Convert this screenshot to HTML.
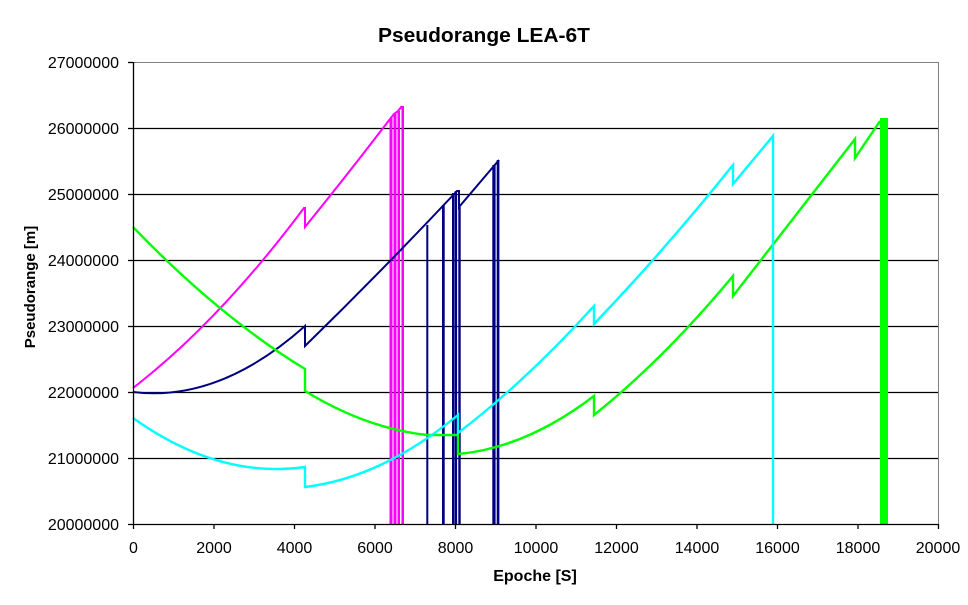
<!DOCTYPE html>
<html>
<head>
<meta charset="utf-8">
<style>
  html, body { margin: 0; padding: 0; background: #ffffff; }
  svg { display: block; }
  text { font-family: "Liberation Sans", Arial, sans-serif; fill: #000; }
</style>
</head>
<body>
<svg width="968" height="605" viewBox="0 0 968 605" xmlns="http://www.w3.org/2000/svg">
  <rect x="0" y="0" width="968" height="605" fill="#ffffff"/>

  <!-- Title -->
  <text x="378" y="42" font-size="20" font-weight="bold" textLength="212" lengthAdjust="spacingAndGlyphs">Pseudorange LEA-6T</text>

  <!-- plot border (grey top/right) -->
  <line x1="133" y1="62.5" x2="938.5" y2="62.5" stroke="#808080" stroke-width="1"/>
  <line x1="938.5" y1="62" x2="938.5" y2="524" stroke="#808080" stroke-width="1"/>

  <!-- grid lines -->
  <g stroke="#000" stroke-width="1.3">
    <line x1="133" y1="128.5" x2="938" y2="128.5"/>
    <line x1="133" y1="194.5" x2="938" y2="194.5"/>
    <line x1="133" y1="260.5" x2="938" y2="260.5"/>
    <line x1="133" y1="326.5" x2="938" y2="326.5"/>
    <line x1="133" y1="392.5" x2="938" y2="392.5"/>
    <line x1="133" y1="458.5" x2="938" y2="458.5"/>
  </g>

  <!-- series: magenta -->
  <g fill="#FF00FF">
    <rect x="389.5" y="118" width="3" height="406"/>
    <rect x="393.5" y="114" width="3" height="410"/>
    <rect x="397.5" y="111" width="2.5" height="413"/>
    <rect x="401.5" y="106" width="2.5" height="418"/>
  </g>
  <path fill="none" stroke="#FF00FF" stroke-width="2"
    d="M133,388 Q218.5,322.2 304,208 L305,208 L305,227 Q348,174 390,119 L394,114 L398,111 L402,106"/>

  <!-- series: navy -->
  <g fill="#000080">
    <rect x="426.3" y="225" width="2" height="299"/>
    <rect x="442" y="205" width="2.7" height="319"/>
    <rect x="452" y="193" width="2.4" height="331"/>
    <rect x="454.7" y="191" width="2.4" height="333"/>
    <rect x="458.3" y="207" width="2.4" height="317"/>
    <rect x="492.3" y="165" width="3.3" height="359"/>
    <rect x="496.7" y="160" width="2.7" height="364"/>
  </g>
  <path fill="none" stroke="#000080" stroke-width="2"
    d="M133,392 Q219,402.6 305,326 L305,346 Q381,271.9 457,191 L459,191 L459,207 L499,160"/>

  <!-- series: green -->
  <rect x="880" y="118" width="8" height="406" fill="#00FF00"/>
  <path fill="none" stroke="#00FF00" stroke-width="2.4"
    d="M133,227 Q219,316.4 305,369 L305,391 Q366,428.3 427,435 L458,435 L458,454 Q526,447.9 594,396 L594,415 Q663.5,359.5 733,276 L733,296 L855,139 L855,158 L880,121"/>

  <!-- series: cyan -->
  <path fill="none" stroke="#00FFFF" stroke-width="2.4"
    d="M133,418 Q219,479.3 305,467 L305,487 Q381.5,478 458,415 L458,433 Q526,381.1 594,306 L594,324 Q663.5,251.6 733,165 L733,184 L773,136 L773,524"/>

  <!-- axes -->
  <line x1="133.5" y1="62" x2="133.5" y2="525" stroke="#000" stroke-width="1.3"/>
  <line x1="128" y1="524.5" x2="938.5" y2="524.5" stroke="#000" stroke-width="1.3"/>
  <g stroke="#000" stroke-width="1.3">
    <line x1="128" y1="62.5" x2="133" y2="62.5"/>
    <line x1="128" y1="128.5" x2="133" y2="128.5"/>
    <line x1="128" y1="194.5" x2="133" y2="194.5"/>
    <line x1="128" y1="260.5" x2="133" y2="260.5"/>
    <line x1="128" y1="326.5" x2="133" y2="326.5"/>
    <line x1="128" y1="392.5" x2="133" y2="392.5"/>
    <line x1="128" y1="458.5" x2="133" y2="458.5"/>
    <line x1="133.5" y1="524" x2="133.5" y2="529"/>
    <line x1="214" y1="524" x2="214" y2="529"/>
    <line x1="294.5" y1="524" x2="294.5" y2="529"/>
    <line x1="375" y1="524" x2="375" y2="529"/>
    <line x1="455.5" y1="524" x2="455.5" y2="529"/>
    <line x1="536" y1="524" x2="536" y2="529"/>
    <line x1="616.5" y1="524" x2="616.5" y2="529"/>
    <line x1="697" y1="524" x2="697" y2="529"/>
    <line x1="777.5" y1="524" x2="777.5" y2="529"/>
    <line x1="858" y1="524" x2="858" y2="529"/>
    <line x1="938.5" y1="524" x2="938.5" y2="529"/>
  </g>

  <!-- y tick labels -->
  <g font-size="16" text-anchor="end">
    <text x="119" y="68">27000000</text>
    <text x="119" y="134">26000000</text>
    <text x="119" y="200">25000000</text>
    <text x="119" y="266">24000000</text>
    <text x="119" y="332">23000000</text>
    <text x="119" y="398">22000000</text>
    <text x="119" y="464">21000000</text>
    <text x="119" y="530">20000000</text>
  </g>

  <!-- x tick labels -->
  <g font-size="16" text-anchor="middle">
    <text x="133.5" y="553">0</text>
    <text x="214" y="553">2000</text>
    <text x="294.5" y="553">4000</text>
    <text x="375" y="553">6000</text>
    <text x="455.5" y="553">8000</text>
    <text x="536" y="553">10000</text>
    <text x="616.5" y="553">12000</text>
    <text x="697" y="553">14000</text>
    <text x="777.5" y="553">16000</text>
    <text x="858" y="553">18000</text>
    <text x="938" y="553">20000</text>
  </g>

  <!-- axis titles -->
  <text x="535" y="581" font-size="16" font-weight="bold" text-anchor="middle">Epoche [S]</text>
  <text transform="translate(35,287) rotate(-90)" font-size="15" font-weight="bold" text-anchor="middle">Pseudorange [m]</text>
</svg>
</body>
</html>
